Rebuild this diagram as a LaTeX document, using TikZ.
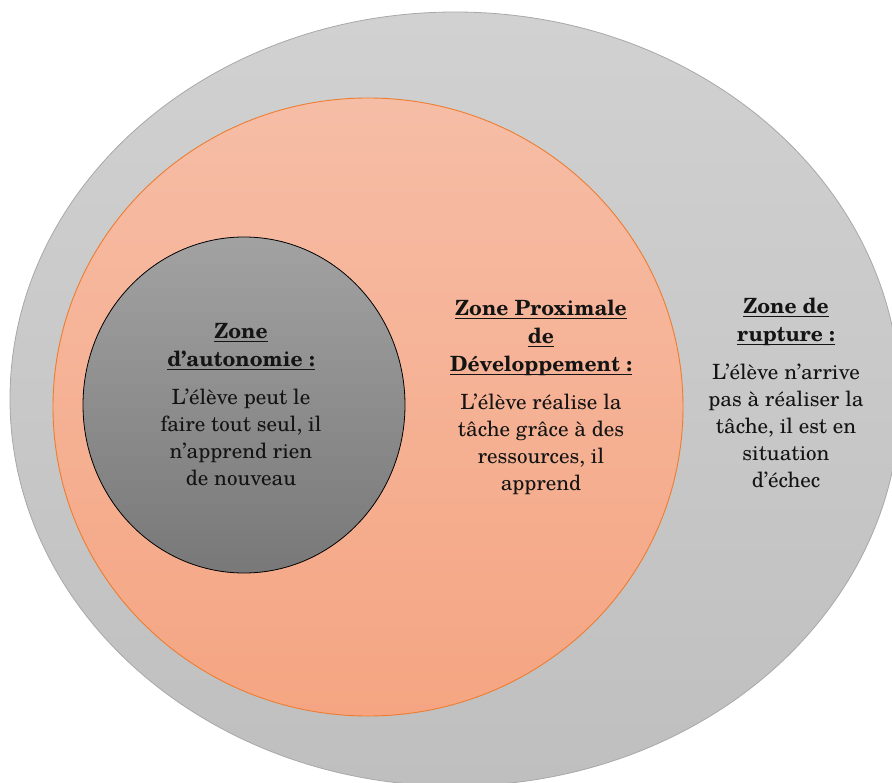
\documentclass[tikz,border=0pt]{standalone}
\usepackage{fontspec}
\setmainfont{TeX Gyre Schola}
\usetikzlibrary{shapes.geometric}
\definecolor{outertop}{HTML}{D1D1D1}
\definecolor{outerbot}{HTML}{BFBFBF}
\definecolor{outerline}{HTML}{A8A8A8}
\definecolor{zpdtop}{HTML}{F6BDA6}
\definecolor{zpdbot}{HTML}{F5A582}
\definecolor{zpdline}{HTML}{ED7D31}
\definecolor{autotop}{HTML}{A2A2A2}
\definecolor{autobot}{HTML}{787878}
\definecolor{txt}{HTML}{141414}
\newcommand\zul[1]{\setbox0\hbox{#1}\leavevmode\rlap{\vrule height -2.4pt depth 3.6pt width \wd0}\box0}
\tikzset{
  zone/.style={ellipse, inner sep=0pt},
  zonetext/.style={align=center, inner sep=0pt, anchor=north, text=txt,
    font=\fontsize{21}{27}\selectfont}
}
\begin{document}
\begin{tikzpicture}[x=1pt,y=-1pt]
\useasboundingbox (0,0) rectangle (892,783);
\node[zone, minimum width=890pt, minimum height=774pt, top color=outertop, bottom color=outerbot, draw=outerline, line width=0.8pt] (outer) at (455,399) {};
\node[zone, minimum width=630pt, minimum height=618pt, top color=zpdtop, bottom color=zpdbot, draw=zpdline, line width=0.9pt] (zpd) at (368,407) {};
\node[zone, minimum width=322pt, minimum height=336pt, top color=autotop, bottom color=autobot, draw=black, line width=0.8pt] (auto) at (244,405) {};
\node[zonetext] (tauto) at (241,319.1) {\strut\textbf{\zul{Zone}}\\[1pt]\textbf{\zul{d’autonomie :}}\\[11pt]L’élève peut le\\faire tout seul, il\\n’apprend rien\\de nouveau};
\node[zonetext] (tzpd) at (541,296.1) {\strut\textbf{\zul{Zone Proximale}}\\[1pt]\textbf{\zul{de}}\\[1pt]\textbf{\zul{Développement :}}\\[11pt]L’élève réalise la\\tâche grâce à des\\ressources, il\\apprend};
\node[zonetext] (trupt) at (786,294.1) {\strut\textbf{\zul{Zone de}}\\[1pt]\textbf{\zul{rupture :}}\\[11pt]L’élève n’arrive\\pas à réaliser la\\tâche, il est en\\situation\\d’échec};
\end{tikzpicture}
\end{document}
